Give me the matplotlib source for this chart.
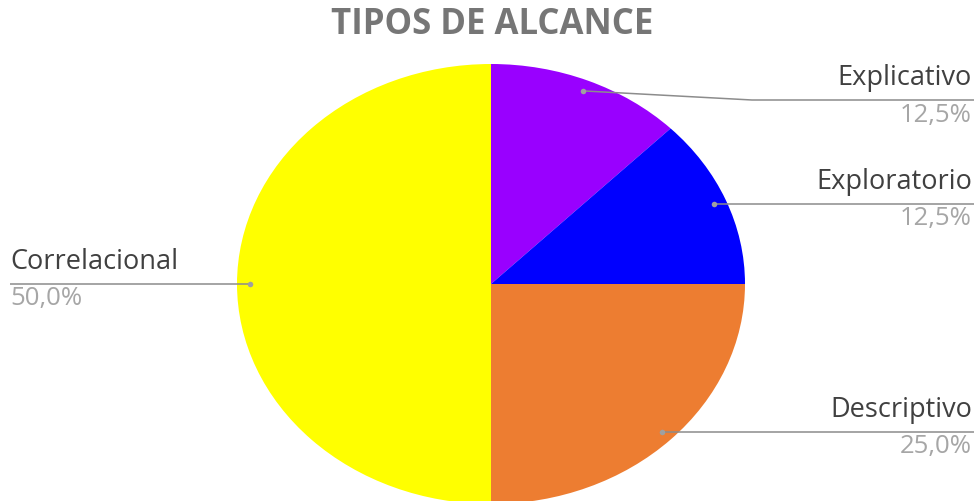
import numpy as np
import matplotlib.pyplot as plt

categories = ["Explicativo", "Exploratorio", "Descriptivo", "Correlacional"]
values = [12.5, 12.5, 25.0, 50.0]
colors = ["#9900FF", "#0000FF", "#ED7D31", "#FFFF00"]
title = "TIPOS DE ALCANCE"

W, H = 977, 501
fig = plt.figure(figsize=(W / 100, H / 100), dpi=100)
fig.patch.set_facecolor("white")

# pie axes covering the ellipse bounding box (pixels)
x0, x1, y0, y1 = 237, 745, 64, 504
pax = fig.add_axes([x0 / W, (H - y1) / H, (x1 - x0) / W, (y1 - y0) / H])
wedges, _ = pax.pie(values, colors=colors, startangle=90, counterclock=False,
                    radius=1, wedgeprops=dict(linewidth=0))
pax.set_aspect("auto")
pax.set_xlim(-1, 1)
pax.set_ylim(-1, 1)
pax.axis("off")
for w in wedges:
    w.set_clip_on(False)

# overlay axes in pixel coordinates
ov = fig.add_axes([0, 0, 1, 1], facecolor="none")
ov.set_xlim(0, W)
ov.set_ylim(H, 0)
ov.axis("off")

fig.canvas.draw()
to_ov = pax.transData + ov.transData.inverted()

font = "Open Sans"
lab_col = "#404040"
pct_col = "#A6A6A6"
line_col = "#8C8C8C"
fs_lab = 19.5
fs_pct = 18.5

# label layout: (side, line y in px, elbow x)
layout = {
    "Explicativo": ("right", 100, 752),
    "Exploratorio": ("right", 204, None),
    "Descriptivo": ("right", 432, None),
    "Correlacional": ("left", 284, None),
}

cum = 0.0
total = sum(values)
for cat, v in zip(categories, values):
    mid = 90 - 360 * (cum + v / 2) / total
    cum += v
    r = 0.95
    px, py = to_ov.transform((r * np.cos(np.radians(mid)), r * np.sin(np.radians(mid))))
    side, ly, elbow = layout[cat]
    if side == "right":
        if elbow is not None:
            xs = [px, elbow, 974]
            ys = [py, ly, ly]
        else:
            xs = [px, 974]
            ys = [ly, ly]
        tx, ha = 972, "right"
    else:
        xs = [10, px]
        ys = [ly, ly]
        tx, ha = 10, "left"
    ov.plot(xs, ys, color=line_col, lw=1.1, solid_capstyle="butt")
    ov.plot([px], [py], "o", color="#A0A0A0", ms=4, mew=0)
    ov.text(tx, ly - 22, cat, ha=ha, va="center", fontsize=fs_lab,
            color=lab_col, family=font)
    ov.text(tx, ly + 15, f"{v:.1f}%".replace(".", ","), ha=ha, va="center",
            fontsize=fs_pct, color=pct_col, family=font)

ov.text(492, 25, title, ha="center", va="center", fontsize=25,
        fontweight="bold", color="#767676", family=font)

fig.savefig("out.png", dpi=100, facecolor="white")
